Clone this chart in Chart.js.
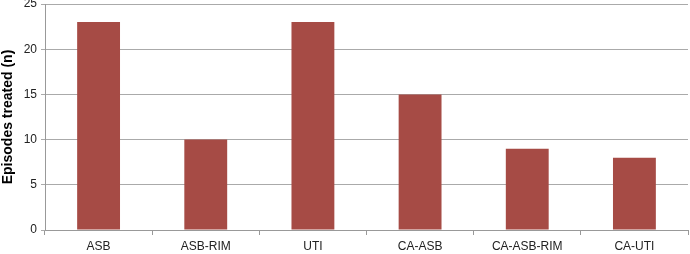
<!DOCTYPE html>
<html>
<head>
<meta charset="utf-8">
<script src="https://cdn.jsdelivr.net/npm/chart.js@4"></script>
<style>
  html, body { margin: 0; padding: 0; background: #fff; }
  #wrap { width: 690px; height: 254px; }
</style>
</head>
<body>
<div id="wrap"><canvas id="chart"></canvas></div>
<script>
// chart data
const categories = ['ASB', 'ASB-RIM', 'UTI', 'CA-ASB', 'CA-ASB-RIM', 'CA-UTI'];
const episodes = [23, 10, 23, 15, 9, 8];
const yTicks = [0, 5, 10, 15, 20, 25];

const ctx = document.getElementById('chart').getContext('2d');
new Chart(ctx, {
    type: 'bar',
    data: {
        labels: categories,
        datasets: [{
            data: episodes,
            backgroundColor: '#A64B45',
            borderWidth: 0,
            categoryPercentage: 1,
            barPercentage: 0.4
        }]
    },
    options: {
        responsive: true,
        maintainAspectRatio: false,
        animation: false,
        layout: { autoPadding: false, padding: { top: 4, right: 2, left: 0, bottom: 0 } },
        plugins: {
            legend: { display: false },
            tooltip: { enabled: false }
        },
        scales: {
            x: {
                offset: true,
                grid: {
                    offset: true,
                    drawOnChartArea: false,
                    drawTicks: true,
                    tickLength: 5,
                    color: '#999'
                },
                border: { color: '#999' },
                ticks: {
                    color: '#222',
                    font: { family: 'Liberation Sans, Arial', size: 12 },
                    padding: 4,
                    maxRotation: 0
                },
                afterFit: scale => {
                    scale.height = 24;
                    scale.paddingLeft = 0;
                    scale.paddingRight = 0;
                }
            },
            y: {
                min: yTicks[0],
                max: yTicks[yTicks.length - 1],
                afterBuildTicks: scale => {
                    scale.ticks = yTicks.map(v => ({ value: v }));
                },
                grid: {
                    color: '#aaa',
                    tickLength: 4
                },
                border: { color: '#999' },
                ticks: {
                    color: '#222',
                    font: { family: 'Liberation Sans, Arial', size: 12 },
                    padding: 4
                },
                title: {
                    display: true,
                    text: 'Episodes treated (n)',
                    color: '#000',
                    font: { family: 'Liberation Sans, Arial', size: 14, weight: 'bold' },
                    padding: { top: 0, bottom: 1 }
                },
                afterFit: scale => {
                    scale.width = 45;
                    scale.paddingTop = 0;
                    scale.paddingBottom = 0;
                }
            }
        }
    }
});
</script>
</body>
</html>
